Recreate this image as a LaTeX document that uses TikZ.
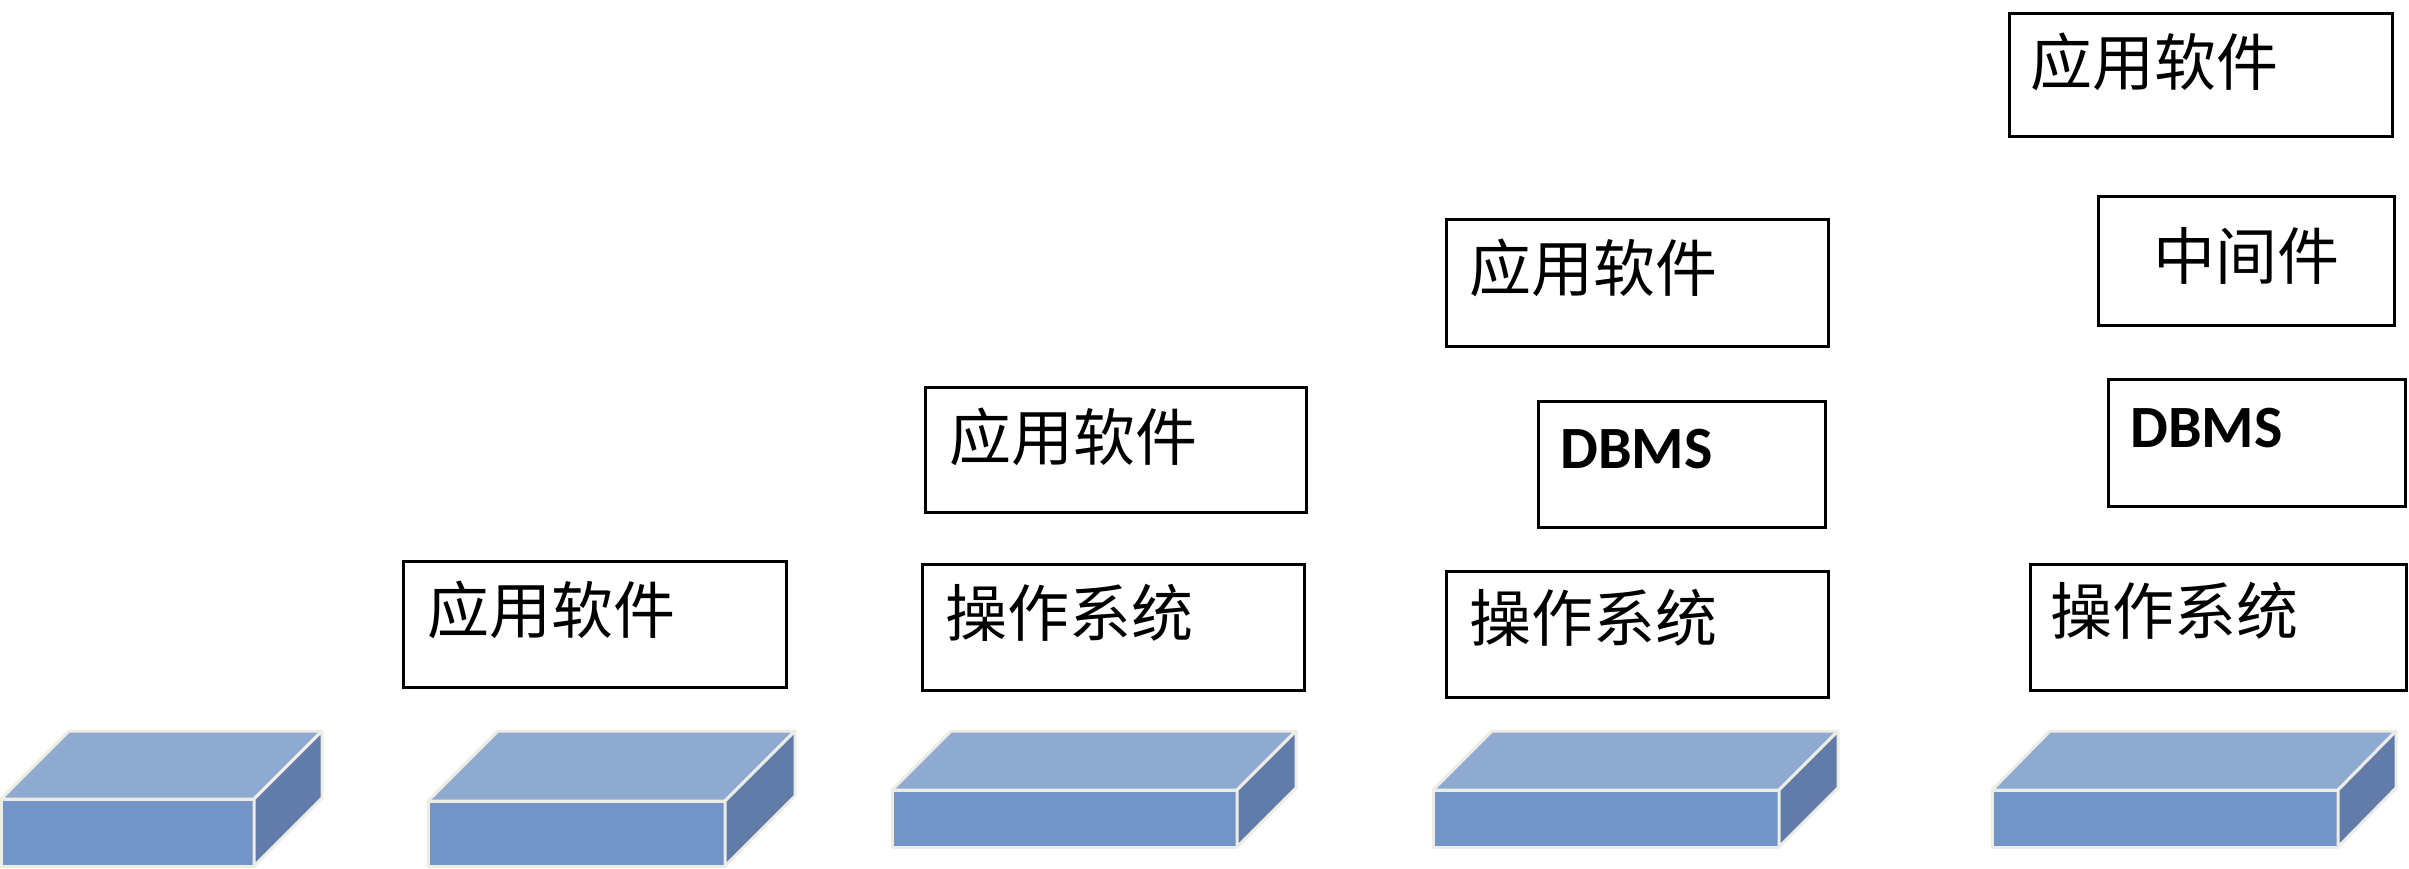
\documentclass[tikz,border=0pt]{standalone}
\usepackage{fontspec}
\newfontfamily\cjk{Noto Sans CJK SC}
\newfontfamily\lat{Carlito}
\definecolor{cubefront}{RGB}{114,148,198}
\definecolor{cubetop}{RGB}{143,170,209}
\definecolor{cubeside}{RGB}{97,124,168}
\definecolor{cubeline}{RGB}{237,237,230}
\tikzset{
  box/.style={draw=black, line width=3pt, rectangle, inner sep=0pt, outer sep=0pt, anchor=north west},
  cjktext/.style={anchor=base west, inner sep=0pt, font=\cjk\fontsize{62}{62}\selectfont},
  dbtext/.style={anchor=base west, inner sep=0pt, font=\lat\bfseries\fontsize{60}{60}\selectfont},
  cubeedge/.style={draw=cubeline, line width=3pt, line join=round},
}
% x1 x2 y1 y2 dx dy
\newcommand\mycube[6]{%
  \filldraw[cubeedge, fill=cubefront] (#1,#3) rectangle (#2,#4);
  \filldraw[cubeedge, fill=cubetop] (#1,#3) -- ({#1+#5},{#3-#6}) -- ({#2+#5},{#3-#6}) -- (#2,#3) -- cycle;
  \filldraw[cubeedge, fill=cubeside] (#2,#3) -- ({#2+#5},{#3-#6}) -- ({#2+#5},{#4-#6}) -- (#2,#4) -- cycle;
}
\begin{document}
\begin{tikzpicture}[x=1pt, y=-1pt]
\useasboundingbox (0,0) rectangle (2409,869);

% hardware cubes
\mycube{1}{254}{799}{866}{68}{68}
\mycube{428}{725}{801}{866}{70}{70}
\mycube{892}{1237}{790}{847}{59}{59}
\mycube{1433}{1779}{790}{847}{59}{59}
\mycube{1992}{2338}{790}{847}{58}{59}

% boxes
\node[box, minimum width=383pt, minimum height=126pt] (b1) at (403,561) {};
\node[box, minimum width=381pt, minimum height=125pt] (b2) at (925,387) {};
\node[box, minimum width=382pt, minimum height=126pt] (b3) at (922,564) {};
\node[box, minimum width=382pt, minimum height=126pt] (b4) at (1446,220) {};
\node[box, minimum width=287pt, minimum height=126pt] (b5) at (1538,401) {};
\node[box, minimum width=382pt, minimum height=126pt] (b6) at (1446,571) {};
\node[box, minimum width=383pt, minimum height=123pt] (b7) at (2009,14) {};
\node[box, minimum width=296pt, minimum height=128pt] (b8) at (2098,197) {};
\node[box, minimum width=297pt, minimum height=127pt] (b9) at (2108,379) {};
\node[box, minimum width=376pt, minimum height=126pt] (b10) at (2030,564) {};

% texts
\node[cjktext] (t1) at (427,633) {应用软件};
\node[cjktext] (t2) at (949,460) {应用软件};
\node[cjktext] (t3) at (945,636) {操作系统};
\node[cjktext] (t4) at (1469,291) {应用软件};
\node[dbtext] (t5) at (1560,468) {DBMS};
\node[cjktext] (t6) at (1469,641) {操作系统};
\node[cjktext] (t7) at (2030,86) {应用软件};
\node[cjktext] (t8) at (2153,279) {中间件};
\node[dbtext] (t9) at (2130,447) {DBMS};
\node[cjktext] (t10) at (2050,634) {操作系统};
\end{tikzpicture}
\end{document}
